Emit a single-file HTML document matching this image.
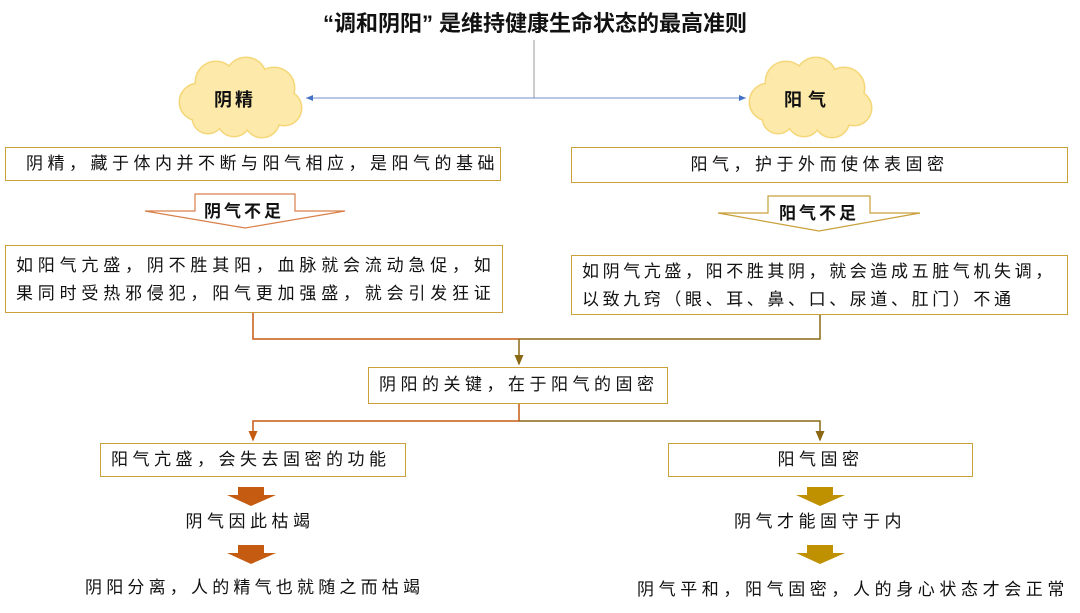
<!DOCTYPE html>
<html><head><meta charset="utf-8"><style>
body{margin:0;width:1080px;height:613px;background:#fff;position:relative;overflow:hidden;font-family:"Liberation Sans","Noto Sans CJK SC",sans-serif;color:#111}
.t{position:absolute;white-space:nowrap}
.box{position:absolute;border:1.5px solid #C9A03A;box-sizing:border-box;background:#fff;font-size:17px;letter-spacing:4.5px;line-height:28px;white-space:nowrap}
svg{position:absolute;left:0;top:0}
</style></head><body>
<svg width="1080" height="613">
<defs>
<marker id="ab" markerWidth="8" markerHeight="8" refX="7" refY="4" orient="auto"><path d="M0,1 L7,4 L0,7z" fill="#4472C4"/></marker>
<marker id="ao" markerWidth="8" markerHeight="8" refX="6" refY="4" orient="auto"><path d="M0,1 L7,4 L0,7z" fill="#C55A11"/></marker>
<marker id="ag" markerWidth="8" markerHeight="8" refX="6" refY="4" orient="auto"><path d="M0,1 L7,4 L0,7z" fill="#8B6914"/></marker>
<g id="cloud">
<circle cx="20" cy="42" r="18"/><circle cx="38" cy="22" r="20"/><circle cx="68" cy="18" r="20"/><circle cx="96" cy="28" r="20"/><circle cx="106" cy="48" r="17"/><circle cx="84" cy="60" r="17"/><circle cx="56" cy="60" r="16"/><circle cx="30" cy="58" r="15"/><circle cx="60" cy="40" r="30"/>
</g>
</defs>
<line x1="534" y1="40" x2="534" y2="98" stroke="#999" stroke-width="1"/>
<line x1="534" y1="98" x2="306" y2="98" stroke="#6F8FC9" stroke-width="1" marker-end="url(#ab)"/>
<line x1="534" y1="98" x2="746" y2="98" stroke="#6F8FC9" stroke-width="1" marker-end="url(#ab)"/>
<g transform="translate(178,60)" fill="#FDE9A9" stroke="#F5D77A" stroke-width="3"><use href="#cloud"/></g>
<g transform="translate(178,60)" fill="#FDE9A9"><use href="#cloud"/></g>
<g transform="translate(748,60)" fill="#FDE9A9" stroke="#F5D77A" stroke-width="3"><use href="#cloud"/></g>
<g transform="translate(748,60)" fill="#FDE9A9"><use href="#cloud"/></g>
<path d="M195,194 H295 V211 H345 L245,228 L145,211 H195Z" fill="#fff" stroke="#D9804A" stroke-width="1.2"/>
<path d="M768,196 H870 V213 H920 L819,231 L718,213 H768Z" fill="#fff" stroke="#C9A03A" stroke-width="1.2"/>
<polyline points="253,312 253,339 519,339" fill="none" stroke="#C55A11" stroke-width="1.5"/>
<polyline points="820,314 820,339 519,339" fill="none" stroke="#8B6914" stroke-width="1.5"/>
<line x1="519" y1="339" x2="519" y2="364" stroke="#8B6914" stroke-width="1.5" marker-end="url(#ag)"/>
<polyline points="519,404 519,421 253,421 253,440" fill="none" stroke="#C55A11" stroke-width="1.5" marker-end="url(#ao)"/>
<polyline points="519,421 820,421 820,440" fill="none" stroke="#8B6914" stroke-width="1.5" marker-end="url(#ag)"/>
<path d="M238,487 H264 V495 H276 L251,506 L227,495 H238Z" fill="#C55A11"/>
<path d="M238,545 H264 V553 H276 L251,564 L227,553 H238Z" fill="#C55A11"/>
<path d="M807,487 H833 V495 H845 L820,506 L796,495 H807Z" fill="#BF9000"/>
<path d="M807,545 H833 V553 H845 L820,564 L796,553 H807Z" fill="#BF9000"/>
</svg>
<div class="t" style="left:0;width:1070px;top:6px;text-align:center;font-size:22px;font-weight:bold">“调和阴阳” 是维持健康生命状态的最高准则</div>
<div class="t" style="left:214px;top:86px;font-size:18px;font-weight:bold;letter-spacing:3px">阴精</div>
<div class="t" style="left:784px;top:86px;font-size:18px;font-weight:bold;letter-spacing:6px">阳气</div>
<div class="box" style="left:5px;top:147px;width:496px;height:34px;padding:2px 0 0 20px">阴精，藏于体内并不断与阳气相应，是阳气的基础</div>
<div class="box" style="left:571px;top:147px;width:497px;height:36px;padding:3px 0 0 0;text-align:center">阳气，护于外而使体表固密</div>
<div class="t" style="left:204px;top:197px;font-size:17px;font-weight:bold;letter-spacing:3px">阴气不足</div>
<div class="t" style="left:779px;top:199px;font-size:17px;font-weight:bold;letter-spacing:3px">阳气不足</div>
<div class="box" style="left:5px;top:245px;width:498px;height:68px;padding:6px 0 0 10px;letter-spacing:4.8px">如阳气亢盛，阴不胜其阳，血脉就会流动急促，如<br>果同时受热邪侵犯，阳气更加强盛，就会引发狂证</div>
<div class="box" style="left:571px;top:255px;width:497px;height:60px;padding:2px 0 0 10px;letter-spacing:3.6px">如阴气亢盛，阳不胜其阴，就会造成五脏气机失调，<br>以致九窍（眼、耳、鼻、口、尿道、肛门）不通</div>
<div class="box" style="left:368px;top:367px;width:300px;height:37px;padding:3px 0 0 10px">阴阳的关键，在于阳气的固密</div>
<div class="box" style="left:100px;top:443px;width:306px;height:34px;padding:2px 0 0 10px">阳气亢盛，会失去固密的功能</div>
<div class="box" style="left:668px;top:443px;width:305px;height:34px;padding:2px 0 0 0;text-align:center">阳气固密</div>
<div class="t" style="left:150px;width:200px;text-align:center;top:507px;font-size:17px;letter-spacing:4.5px">阴气因此枯竭</div>
<div class="t" style="left:720px;width:200px;text-align:center;top:507px;font-size:17px;letter-spacing:4.5px">阴气才能固守于内</div>
<div class="t" style="left:85px;top:573px;font-size:17px;letter-spacing:4.2px">阴阳分离，人的精气也就随之而枯竭</div>
<div class="t" style="left:637px;top:575px;font-size:17px;letter-spacing:4.6px">阴气平和，阳气固密，人的身心状态才会正常</div>
</body></html>
